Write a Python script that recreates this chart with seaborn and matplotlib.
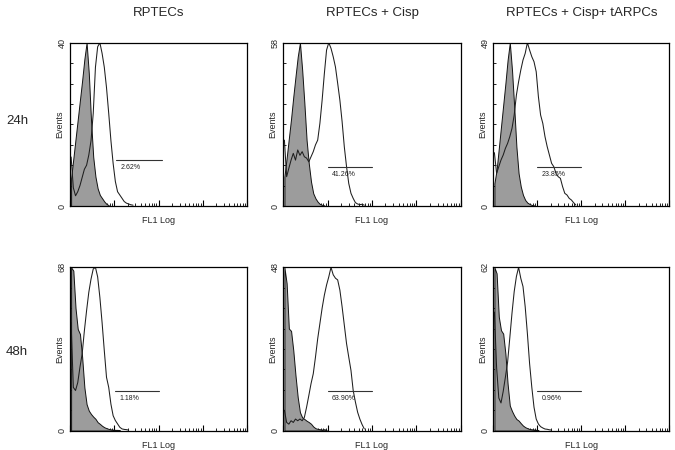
import numpy as np
import pandas as pd
import matplotlib
matplotlib.use("Agg")
import matplotlib.pyplot as plt
import seaborn as sns

sns.set_theme(style="white")
plt.rcParams["font.family"] = ["Liberation Sans", "DejaVu Sans"]

# ---------------- data ----------------
col_titles = ["RPTECs", "RPTECs + Cisp", "RPTECs + Cisp+ tARPCs"]
row_titles = ["24h", "48h"]
y_max = [40, 58, 49, 68, 48, 62]
gate_pct = ["2.62%", "41.26%", "23.85%", "1.18%", "63.90%", "0.96%"]
gate_lo = [1.05, 1.0, 1.0, 1.02, 1.0, 1.0]      # gate start (decades)
gate_hi = [2.07, 2.0, 2.0, 2.02, 2.0, 2.0]      # gate end (decades)
gate_level = [0.28, 0.24, 0.24, 0.245, 0.24, 0.24]  # gate height (fraction of y max)

BIN = 0.05  # channel width in decades, channels start at 10^0

# filled (control) histograms, events per channel
ctrl_24h_rptec = [6.8, 11.6, 16.4, 21.2, 26, 30.8, 36, 40, 32.5, 21, 12, 7.2, 4.3,
                  2.7, 1.9, 1.1, 0.5, 0.2]
ctrl_24h_cisp = [10.4, 17, 24, 31, 38.8, 46, 53, 58, 48.4, 36.5, 23.4, 15, 8.6, 4.5,
                 2.7, 1.5, 0.7, 0.4, 0.2]
ctrl_24h_tarpc = [6.8, 10.8, 17.3, 23.8, 30.3, 36.8, 43.8, 49, 40.8, 29.8, 17.8, 9.8,
                  5.8, 3.3, 1.8, 1.0, 0.6, 0.3, 0.2]
ctrl_48h_rptec = [68, 66.6, 51, 42.3, 40.2, 30.5, 18, 11, 8.3, 6.9, 5.8, 4.9, 3.5, 2.8,
                  2.0, 1.4, 1.0, 0.7, 0.5, 0.4, 0.3, 0.3, 0.2]
ctrl_48h_cisp = [48, 43.3, 30, 29.3, 23.6, 16.2, 9.8, 5.4, 3.9, 3.4, 2.9, 2.5, 2.0, 1.2,
                 0.7, 0.5, 0.4, 0.3, 0.4, 0.2]
ctrl_48h_tarpc = [62, 59.7, 43.2, 38.1, 36.8, 29.2, 17.8, 9.5, 7.4, 5.7, 4.4, 3.8, 2.8,
                  1.9, 1.3, 0.9, 0.6, 0.5, 0.4, 0.3, 0.2]

# open (treated) histograms, events per channel
samp_24h_rptec = [12, 4.5, 2.5, 3.5, 5, 7, 9, 10, 12.5, 16, 22.7, 34, 39, 40, 37.4, 34,
                  29, 22.7, 16, 10.4, 6, 3.5, 2.7, 1.9, 1.1, 0.7, 0.5, 0.3, 0.2]
samp_24h_cisp = [23.4, 10.4, 13.4, 16.3, 18.7, 16.3, 19.9, 18, 19.3, 17.5, 17, 15.7,
                 17.5, 19.3, 21.7, 23.4, 29.4, 37.6, 47, 55.4, 58, 56, 53, 49.4, 43.6,
                 37.6, 30, 21, 14, 8, 4.5, 2.7, 1.2, 0.7, 0.5, 0.6, 0.3]
samp_24h_tarpc = [16, 9.8, 11.8, 13.8, 15.3, 17.3, 18.8, 20.8, 23.3, 27.3, 33.3, 37.3,
                  40.8, 43.8, 45.8, 49, 46.8, 44.8, 43.3, 40.3, 32.8, 27.3, 24.8, 20.8,
                  17.8, 15.3, 12.8, 11.8, 9.8, 8.8, 8.3, 5.8, 3.8, 3.3, 2.3, 1.8, 1.0, 0.3]
samp_48h_rptec = [45, 18, 16.7, 20, 26.4, 32, 41.6, 50, 57.6, 63.1, 67.3, 68, 64, 55.5,
                  45, 33.3, 22.2, 18, 11, 6.2, 4.2, 2.8, 1.4, 0.7, 0.5, 0.4, 0.2]
samp_48h_cisp = [6, 2.4, 1.9, 2.9, 2.4, 3.4, 2.9, 3.4, 2.9, 3.9, 6.9, 10.3, 13.8, 16.7,
                 21.6, 27, 31.5, 36, 39.8, 42.8, 45.2, 48, 45.8, 44.8, 44.3, 41.3, 36.4,
                 31, 25.6, 21.6, 17.7, 11.8, 8.4, 5.4, 3.4, 1.8, 0.5]
samp_48h_tarpc = [45, 24, 12.4, 10.5, 14.9, 20.3, 26, 35.2, 44.6, 52.8, 58.5, 62, 57.8,
                  54.7, 47, 36.8, 25.4, 16.5, 8.9, 4.4, 2.5, 1.5, 1.0, 0.6, 0.5, 0.3, 0.2]

ctrl_sets = [ctrl_24h_rptec, ctrl_24h_cisp, ctrl_24h_tarpc,
             ctrl_48h_rptec, ctrl_48h_cisp, ctrl_48h_tarpc]
samp_sets = [samp_24h_rptec, samp_24h_cisp, samp_24h_tarpc,
             samp_48h_rptec, samp_48h_cisp, samp_48h_tarpc]

# ---------------- layout (pixels of a 675x450 canvas) ----------------
W, H = 675, 450
col_left = [70, 283.3, 493.3]
col_width = [177, 177.5, 176]
row_top = [42.7, 267.3]
panel_h = 163.3

fig = plt.figure(figsize=(6.75, 4.5), dpi=100)
fig.patch.set_facecolor("white")

minor_pos = [d + np.log10(k) for d in range(4) for k in range(2, 10)]


def draw_hist(ax, counts, filled):
    n = len(counts)
    df = pd.DataFrame({"channel": (np.arange(n) + 0.5) * BIN,
                       "events": np.asarray(counts, dtype=float)})
    common = dict(data=df, x="channel", weights="events", binwidth=BIN,
                  binrange=(0, n * BIN), element="poly", ax=ax)
    if filled:
        sns.histplot(fill=True, color="#9c9c9c", alpha=1, edgecolor="#111111",
                     linewidth=0.7, **common)
    else:
        sns.histplot(fill=False, color="#1e1e1e", linewidth=0.75, **common)


for i in range(6):
    r, c = divmod(i, 3)
    l, w, t = col_left[c], col_width[c], row_top[r]
    ax = fig.add_axes([l / W, 1 - (t + panel_h) / H, w / W, panel_h / H])
    ymax = y_max[i]
    draw_hist(ax, ctrl_sets[i], True)
    draw_hist(ax, samp_sets[i], False)

    ax.set_xlim(0, 4)
    ax.set_ylim(0, ymax)

    # gate marker
    gy = gate_level[i] * ymax
    ax.plot([gate_lo[i], gate_hi[i]], [gy, gy], color="#333333", lw=0.8)
    ax.text(gate_lo[i] + 0.1, gy - 0.025 * ymax, gate_pct[i], fontsize=5,
            va="top", ha="left", color="#222222")

    # axes styling
    for sp in ax.spines.values():
        sp.set_visible(True)
        sp.set_color("black")
        sp.set_linewidth(0.9)
    ax.set_xticks([0, 1, 2, 3, 4])
    ax.set_xticks(minor_pos, minor=True)
    ax.set_xticklabels([])
    ax.tick_params(axis="x", which="major", direction="in", length=4, width=0.8,
                   bottom=True, top=False, color="black")
    ax.tick_params(axis="x", which="minor", direction="in", length=2.2, width=0.6,
                   bottom=True, top=False, color="black")
    yt = np.linspace(0, ymax, 9)
    ax.set_yticks(yt)
    ax.set_yticklabels(["0"] + [""] * 7 + [str(ymax)])
    ax.tick_params(axis="y", direction="in", length=2.5, width=0.6, left=True,
                   labelsize=6.5, labelrotation=90, pad=2.5, color="black")
    for lab in ax.get_yticklabels():
        lab.set_va("center")
    ax.set_xlabel("FL1 Log", fontsize=6.5, labelpad=4)
    ax.set_ylabel("Events", fontsize=6.5)
    ax.yaxis.set_label_coords(-0.035, 0.5)
    ax.grid(False)

for c in range(3):
    cx = (col_left[c] + col_width[c] / 2) / W
    fig.text(cx, 1 - 13 / H, col_titles[c], ha="center", va="center", fontsize=9.5)

row_y = [121, 352]
for r in range(2):
    fig.text(17 / W, 1 - row_y[r] / H, row_titles[r], ha="center", va="center",
             fontsize=9.5)

fig.savefig("out.png", dpi=100, facecolor="white")
